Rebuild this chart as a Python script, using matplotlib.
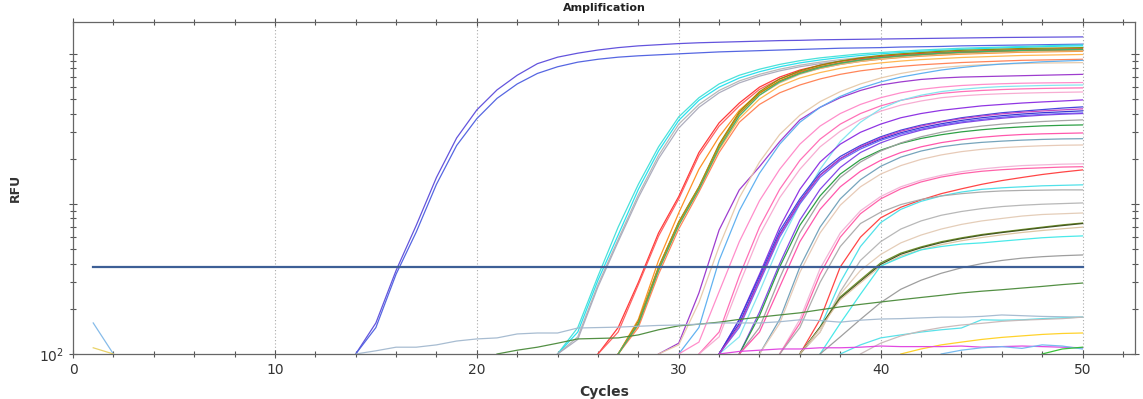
import matplotlib.pyplot as plt
import numpy as np
from matplotlib.ticker import FixedLocator, FuncFormatter

# first cycle of each trace (earlier cycles are below 100 RFU, off the chart)
starts = [14, 14,
          24, 24, 24, 24,
          26, 26,
          27, 27, 27, 27, 27, 27, 27,
          29, 29, 30, 30, 31, 31,
          32, 32, 32, 32, 32, 32,
          33, 33, 33, 33,
          34, 34, 35, 35, 36, 36, 35, 36, 36, 36, 36, 36, 37, 37,
          21, 14, 38, 39, 41, 32, 43, 48, 1, 1]

# RFU per cycle, from the start cycle up to cycle 50
rfu = [
    [100, 161, 360, 720, 1500, 2750, 4230, 5750, 7200, 8600, 9500, 10100, 10600, 11000, 11300, 11500, 11700, 11850,
     11950, 12050, 12150, 12250, 12300, 12400, 12450, 12500, 12550, 12600, 12650, 12700, 12750, 12800, 12850, 12880,
     12910, 12940, 12970],
    [100, 150, 340, 650, 1350, 2450, 3700, 5050, 6300, 7400, 8200, 8800, 9200, 9500, 9700, 9850, 10000, 10150, 10300,
     10400, 10500, 10600, 10700, 10800, 10900, 10950, 11000, 11100, 11150, 11200, 11300, 11350, 11400, 11450, 11500,
     11550, 11600],
    [100, 150, 330, 700, 1350, 2400, 3800, 5100, 6300, 7200, 7900, 8500, 9000, 9400, 9700, 10000, 10200, 10400, 10600,
     10750, 10900, 11000, 11100, 11200, 11300, 11400, 11450],
    [100, 140, 310, 620, 1250, 2250, 3600, 4900, 6000, 6900, 7600, 8200, 8700, 9100, 9450, 9750, 10000, 10200, 10400,
     10550, 10700, 10850, 10950, 11050, 11150, 11250, 11300],
    [100, 130, 290, 580, 1150, 2100, 3400, 4600, 5700, 6600, 7300, 7900, 8400, 8800, 9150, 9450, 9700, 9900, 10100,
     10250, 10400, 10500, 10600, 10700, 10800, 10850, 10900],
    [100, 125, 280, 560, 1100, 2000, 3200, 4400, 5500, 6400, 7100, 7700, 8200, 8600, 8950, 9250, 9500, 9700, 9900,
     10050, 10200, 10300, 10400, 10500, 10600, 10650, 10700],
    [100, 150, 300, 640, 1120, 2200, 3470, 4700, 6000, 7000, 7800, 8400, 8900, 9300, 9600, 9850, 10050, 10200, 10350,
     10450, 10550, 10650, 10700, 10750, 10800],
    [100, 140, 290, 610, 1080, 2100, 3300, 4500, 5800, 6800, 7600, 8200, 8700, 9100, 9400, 9650, 9850, 10000, 10150,
     10250, 10350, 10450, 10500, 10550, 10600],
    [100, 170, 420, 870, 1700, 2800, 4200, 5500, 6600, 7400, 8000, 8500, 8900, 9200, 9450, 9650, 9800, 9950, 10050,
     10150, 10250, 10300, 10350, 10400],
    [100, 165, 380, 760, 1300, 2500, 4100, 5600, 6800, 7700, 8400, 8950, 9400, 9750, 10000, 10200, 10400, 10550,
     10650, 10750, 10850, 10900, 10950, 11000],
    [100, 160, 370, 740, 1280, 2400, 3900, 5300, 6400, 7300, 8000, 8500, 8900, 9250, 9500, 9700, 9900, 10050, 10150,
     10250, 10350, 10400, 10450, 10500],
    [100, 155, 360, 720, 1250, 2300, 3700, 5000, 6100, 6900, 7500, 8000, 8400, 8700, 8950, 9150, 9300, 9450, 9550,
     9650, 9750, 9800, 9850, 9900],
    [100, 160, 375, 750, 1290, 2450, 4000, 5450, 6600, 7500, 8200, 8700, 9100, 9450, 9700, 9900, 10100, 10250, 10350,
     10450, 10550, 10600, 10650, 10700],
    [100, 150, 340, 680, 1200, 2200, 3500, 4600, 5500, 6200, 6800, 7300, 7700, 8000, 8250, 8450, 8600, 8750, 8850,
     8950, 9050, 9100, 9150, 9200],
    [100, 158, 360, 720, 1250, 2350, 3850, 5300, 6500, 7400, 8100, 8650, 9100, 9450, 9700, 9900, 10100, 10250, 10350,
     10450, 10550, 10600, 10650, 10700],
    [100, 118, 255, 670, 1240, 1770, 2600, 3630, 4400, 5100, 5700, 6200, 6500, 6750, 6900, 7000, 7050, 7100, 7150,
     7200, 7250, 7300],
    [100, 115, 220, 520, 1100, 1900, 2900, 3900, 4800, 5600, 6300, 6900, 7400, 7800, 8100, 8300, 8450, 8550, 8620,
     8680, 8710, 8740],
    [100, 150, 420, 900, 1600, 2500, 3500, 4400, 5200, 5900, 6500, 7000, 7400, 7800, 8100, 8350, 8550, 8700, 8850,
     8950, 9050],
    [100, 120, 260, 560, 1050, 1700, 2500, 3300, 4000, 4600, 5100, 5500, 5800, 6000, 6150, 6250, 6320, 6370, 6400,
     6420, 6440],
    [100, 140, 330, 700, 1250, 1950, 2700, 3400, 4000, 4500, 4900, 5200, 5450, 5600, 5700, 5780, 5840, 5880, 5910,
     5930],
    [100, 130, 290, 620, 1100, 1700, 2400, 3050, 3650, 4150, 4550, 4850, 5100, 5250, 5350, 5420, 5470, 5510, 5540,
     5570],
    [100, 130, 260, 540, 1000, 1700, 2600, 3500, 4300, 4900, 5300, 5600, 5800, 5950, 6050, 6100, 6150, 6180, 6200],
    [100, 170, 340, 700, 1250, 1900, 2500, 3000, 3400, 3750, 4000, 4200, 4350, 4500, 4600, 4700, 4780, 4850, 4930],
    [100, 169, 330, 660, 1080, 1620, 2070, 2450, 2800, 3100, 3350, 3550, 3750, 3900, 4050, 4150, 4250, 4350, 4430],
    [100, 160, 315, 630, 1040, 1560, 2000, 2380, 2700, 2980, 3220, 3420, 3600, 3750, 3870, 3970, 4050, 4110, 4170],
    [100, 150, 300, 600, 1000, 1500, 1950, 2320, 2650, 2920, 3150, 3350, 3520, 3660, 3780, 3880, 3950, 4000, 4040],
    [100, 155, 310, 620, 1030, 1550, 2000, 2400, 2750, 3050, 3300, 3520, 3700, 3850, 3980, 4080, 4160, 4230, 4300],
    [100, 190, 400, 780, 1250, 1750, 2200, 2550, 2850, 3100, 3300, 3470, 3600, 3720, 3820, 3900, 3960, 4000],
    [100, 180, 380, 720, 1130, 1580, 1970, 2280, 2530, 2730, 2890, 3020, 3120, 3200, 3260, 3310, 3340, 3360],
    [100, 150, 320, 640, 1050, 1500, 1900, 2250, 2550, 2800, 3000, 3170, 3300, 3400, 3480, 3540, 3590, 3630],
    [100, 140, 280, 560, 920, 1300, 1650, 1950, 2200, 2400, 2560, 2680, 2780, 2850, 2900, 2930, 2950, 2970],
    [100, 170, 380, 700, 1080, 1450, 1780, 2050, 2250, 2400, 2500, 2570, 2620, 2660, 2690, 2710, 2720],
    [100, 160, 350, 640, 980, 1300, 1580, 1800, 1980, 2120, 2230, 2310, 2370, 2410, 2440, 2460, 2470],
    [100, 170, 370, 640, 900, 1120, 1300, 1440, 1550, 1640, 1710, 1760, 1800, 1820, 1840, 1850],
    [100, 160, 340, 600, 860, 1080, 1260, 1400, 1510, 1590, 1650, 1690, 1720, 1740, 1760, 1770],
    [100, 170, 380, 600, 807, 950, 1063, 1170, 1260, 1350, 1430, 1500, 1570, 1630, 1685],
    [100, 150, 300, 520, 750, 920, 1040, 1130, 1200, 1250, 1280, 1300, 1320, 1330, 1340],
    [100, 150, 300, 520, 740, 880, 990, 1070, 1130, 1170, 1200, 1220, 1230, 1235, 1240, 1240],
    [100, 140, 260, 420, 560, 680, 770, 840, 890, 930, 960, 980, 995, 1005, 1015],
    [100, 140, 250, 360, 460, 550, 620, 680, 730, 770, 800, 830, 850, 860, 870],
    [100, 151, 240, 312, 404, 470, 517, 560, 594, 625, 650, 675, 700, 725, 746],
    [100, 150, 235, 305, 395, 462, 510, 552, 587, 618, 644, 668, 693, 717, 740],
    [100, 148, 230, 298, 385, 450, 495, 535, 568, 597, 622, 645, 665, 683, 700],
    [100, 160, 250, 385, 440, 494, 520, 540, 550, 565, 580, 595, 605, 612],
    [100, 130, 170, 220, 270, 310, 345, 375, 400, 420, 435, 445, 452, 457],
    [100, 106, 111, 118, 126, 127, 128, 134, 145, 154, 158, 163, 170, 176, 182, 188, 197, 206, 214, 222, 230, 238,
     246, 255, 262, 268, 275, 282, 290, 297],
    [100, 105, 111, 111, 115, 122, 126, 128, 136, 138, 138, 149, 150, 151, 153, 155, 156, 158, 161, 161, 161, 164,
     169, 167, 163, 168, 171, 172, 174, 176, 176, 178, 182, 180, 178, 177, 176],
    [100, 115, 128, 134, 140, 145, 149, 169, 168, 169, 172, 174, 176],
    [100, 118, 132, 142, 150, 156, 160, 165, 168, 170, 172, 176],
    [100, 108, 115, 120, 125, 129, 132, 135, 137, 138],
    [100, 104, 106, 108, 108, 110, 110, 111, 113, 112, 112, 112, 113, 111, 112, 113, 112, 111, 110],
    [100, 106, 110, 112, 109, 115, 113, 108],
    [100, 108, 111],
    [161, 100],
    [110, 100],
]

colors = ['#5b4bdb', '#4d5ee0',
          '#40e0d8', '#20e0ee', '#b4b4b4', '#a9a9bb',
          '#ff3030', '#ff5a5a',
          '#ff8c1a', '#8b8b00', '#deb887', '#ffb347', '#b8860b', '#ff7f50', '#3cb371',
          '#9932cc', '#e6c9a8', '#5aaef0', '#ff88c8', '#ff69b4', '#f7a8d0',
          '#7fe5ef', '#8a2be2', '#3c3cdc', '#2f2fd0', '#6464f5', '#c03cc0',
          '#7d3fe6', '#239b3c', '#a0a0a0', '#ff4fa8',
          '#6f9fb8', '#e6c8b4', '#f2b2d6', '#ff5aa5', '#ff3c3c', '#48e0e8', '#a9a9a9', '#b4b4b4',
          '#e3cbb5', '#6b8e23', '#3d4f1a', '#dcc3a0', '#40e8e8', '#999999',
          '#4a8a3a', '#a3b9cf', '#50e0e8', '#c8b8b8', '#ffd020', '#e040e0', '#70b8f0', '#30c030',
          '#80b8e8', '#e8d060']

threshold = 380

fig = plt.figure(figsize=(11.43, 3.99), dpi=100)
ax = fig.add_axes([0.0639, 0.1128, 0.9291, 0.8321])

for s, v, c in zip(starts, rfu, colors):
    x = np.arange(s, s + len(v))
    ax.plot(x, v, color=c, lw=0.9, alpha=0.95)

# threshold line
ax.plot([1, 50], [threshold, threshold], color='#3d5f96', lw=1.6)

ax.set_yscale('log')
ax.set_xlim(0, 52.6)
ax.set_ylim(100, 16300)

for gx in [10, 20, 30, 40, 50]:
    ax.axvline(gx, color='#aaaaaa', lw=0.8, ls=(0, (1, 2)), zorder=0)

ax.xaxis.set_major_locator(FixedLocator([0, 10, 20, 30, 40, 50]))
ax.xaxis.set_minor_locator(FixedLocator(np.arange(0, 53, 2)))
ax.yaxis.set_major_locator(FixedLocator([100, 1000, 10000]))
ax.yaxis.set_minor_locator(FixedLocator([m * d for d in (100, 1000) for m in range(2, 10)] + [20000]))
ax.yaxis.set_major_formatter(FuncFormatter(lambda v, p: r'10$^2$' if abs(v - 100) < 1 else ''))
ax.yaxis.set_minor_formatter(FuncFormatter(lambda v, p: ''))

ax.tick_params(which='both', direction='inout', top=True, right=True, length=6, width=0.8,
               color='#555555', labelsize=10, labelcolor='#333333')
ax.tick_params(which='minor', length=5)
for sp in ax.spines.values():
    sp.set_color('#666666')
    sp.set_linewidth(0.9)

ax.set_title('Amplification', fontsize=8, fontweight='bold', pad=8, color='#222222')
ax.set_xlabel('Cycles', fontsize=10, fontweight='bold', color='#333333', labelpad=6)
ax.set_ylabel('RFU', fontsize=9, fontweight='bold', color='#333333')
ax.yaxis.set_label_coords(-0.048, 0.5)

fig.savefig('out.png', dpi=100)
